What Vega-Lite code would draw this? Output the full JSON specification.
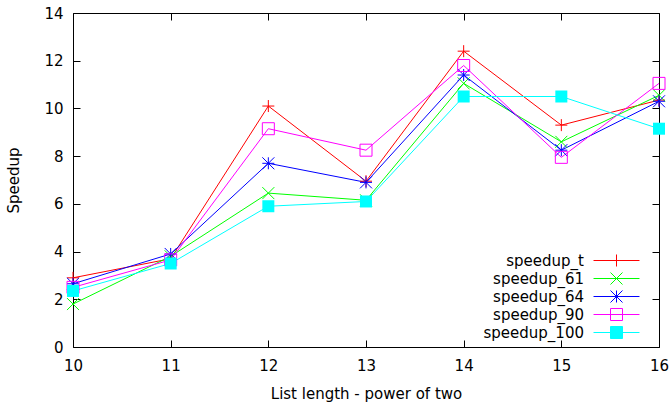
{
  "$schema": "https://vega.github.io/schema/vega-lite/v6.json",
  "width": 586,
  "height": 334,
  "autosize": {"type": "none"},
  "padding": {"left": 73, "top": 13, "right": 11, "bottom": 56},
  "background": "white",
  "config": {
    "view": {"stroke": null},
    "font": "DejaVu Sans",
    "axis": {
      "grid": false,
      "domainColor": "black",
      "domainWidth": 1,
      "labelColor": "black",
      "labelFont": "DejaVu Sans",
      "labelFontSize": 15,
      "labelFlush": false,
      "labelOverlap": false,
      "titleFont": "DejaVu Sans",
      "titleFontSize": 15,
      "titleFontWeight": "normal",
      "titleColor": "black"
    },
    "legend": {
      "labelFont": "DejaVu Sans",
      "labelFontSize": 15,
      "labelColor": "black",
      "padding": 0
    }
  },
  "datasets": {
    "speedups": [
      {"n": 10, "series": "speedup_t", "speedup": 2.9},
      {"n": 11, "series": "speedup_t", "speedup": 3.7},
      {"n": 12, "series": "speedup_t", "speedup": 10.1},
      {"n": 13, "series": "speedup_t", "speedup": 6.95},
      {"n": 14, "series": "speedup_t", "speedup": 12.4},
      {"n": 15, "series": "speedup_t", "speedup": 9.3},
      {"n": 16, "series": "speedup_t", "speedup": 10.35},
      {"n": 10, "series": "speedup_61", "speedup": 1.8},
      {"n": 11, "series": "speedup_61", "speedup": 3.8},
      {"n": 12, "series": "speedup_61", "speedup": 6.45},
      {"n": 13, "series": "speedup_61", "speedup": 6.15},
      {"n": 14, "series": "speedup_61", "speedup": 11.05},
      {"n": 15, "series": "speedup_61", "speedup": 8.6},
      {"n": 16, "series": "speedup_61", "speedup": 10.55},
      {"n": 10, "series": "speedup_64", "speedup": 2.65},
      {"n": 11, "series": "speedup_64", "speedup": 3.9},
      {"n": 12, "series": "speedup_64", "speedup": 7.7},
      {"n": 13, "series": "speedup_64", "speedup": 6.9},
      {"n": 14, "series": "speedup_64", "speedup": 11.4},
      {"n": 15, "series": "speedup_64", "speedup": 8.25},
      {"n": 16, "series": "speedup_64", "speedup": 10.3},
      {"n": 10, "series": "speedup_90", "speedup": 2.5},
      {"n": 11, "series": "speedup_90", "speedup": 3.65},
      {"n": 12, "series": "speedup_90", "speedup": 9.15},
      {"n": 13, "series": "speedup_90", "speedup": 8.25},
      {"n": 14, "series": "speedup_90", "speedup": 11.8},
      {"n": 15, "series": "speedup_90", "speedup": 7.95},
      {"n": 16, "series": "speedup_90", "speedup": 11.05},
      {"n": 10, "series": "speedup_100", "speedup": 2.35},
      {"n": 11, "series": "speedup_100", "speedup": 3.5},
      {"n": 12, "series": "speedup_100", "speedup": 5.9},
      {"n": 13, "series": "speedup_100", "speedup": 6.1},
      {"n": 14, "series": "speedup_100", "speedup": 10.5},
      {"n": 15, "series": "speedup_100", "speedup": 10.5},
      {"n": 16, "series": "speedup_100", "speedup": 9.15}
    ]
  },
  "resolve": {
    "axis": {"x": "independent", "y": "independent"},
    "scale": {"shape": "independent", "fill": "independent", "color": "independent"}
  },
  "layer": [
    {
      "data": {"name": "speedups"},
      "mark": {"type": "line", "strokeWidth": 1, "opacity": 1},
      "encoding": {
        "x": {
          "field": "n", "type": "quantitative",
          "scale": {"domain": [10, 16], "nice": false, "zero": false},
          "axis": {"orient": "bottom", "values": [10, 11, 12, 13, 14, 15, 16], "format": "d", "ticks": false, "labelPadding": 11, "title": "List length - power of two", "titlePadding": 13}
        },
        "y": {
          "field": "speedup", "type": "quantitative",
          "scale": {"domain": [0, 14], "nice": false, "zero": true},
          "axis": {"orient": "left", "values": [0, 2, 4, 6, 8, 10, 12, 14], "format": "d", "ticks": false, "labelPadding": 10, "title": "Speedup", "titlePadding": 22}
        },
        "color": {
          "field": "series", "type": "nominal",
          "scale": {
            "domain": ["speedup_t", "speedup_61", "speedup_64", "speedup_90", "speedup_100"],
            "range": ["#ff0000", "#00ff00", "#0000ff", "#ff00ff", "#00ffff"]
          },
          "legend": null
        }
      }
    },
    {
      "data": {"name": "speedups"},
      "transform": [{"filter": "datum.series !== 'speedup_100'"}],
      "mark": {"type": "point", "filled": false, "size": 144, "strokeWidth": 1, "opacity": 1},
      "encoding": {
        "x": {
          "field": "n", "type": "quantitative",
          "axis": {"orient": "top", "values": [10, 11, 12, 13, 14, 15, 16], "ticks": false, "labels": false, "title": null}
        },
        "y": {
          "field": "speedup", "type": "quantitative",
          "axis": {"orient": "right", "values": [0, 2, 4, 6, 8, 10, 12, 14], "ticks": false, "labels": false, "title": null}
        },
        "color": {
          "field": "series", "type": "nominal",
          "scale": {
            "domain": ["speedup_t", "speedup_61", "speedup_64", "speedup_90"],
            "range": ["#ff0000", "#00ff00", "#0000ff", "#ff00ff"]
          },
          "legend": null
        },
        "shape": {
          "field": "series", "type": "nominal",
          "scale": {
            "domain": ["speedup_t", "speedup_61", "speedup_64", "speedup_90"],
            "range": [
              "M-1,0L1,0M0,-1L0,1",
              "M-1,-1L1,1M-1,1L1,-1",
              "M-1,0L1,0M0,-1L0,1M-1,-1L1,1M-1,1L1,-1",
              "square"
            ]
          },
          "legend": null
        }
      }
    },
    {
      "data": {"name": "speedups"},
      "transform": [{"filter": "datum.series === 'speedup_100'"}],
      "mark": {"type": "square", "size": 144, "color": "#00ffff", "opacity": 1},
      "encoding": {
        "x": {
          "field": "n", "type": "quantitative",
          "axis": {"orient": "bottom", "values": [10, 11, 12, 13, 14, 15, 16], "offset": -7, "ticks": true, "tickSize": 7, "tickWidth": 1, "tickOpacity": 1, "tickColor": "#000000", "domain": false, "labels": false, "title": null}
        },
        "y": {
          "field": "speedup", "type": "quantitative",
          "axis": {"orient": "left", "values": [0, 2, 4, 6, 8, 10, 12, 14], "offset": -7, "ticks": true, "tickSize": 7, "tickWidth": 1, "tickOpacity": 1, "tickColor": "#000000", "domain": false, "labels": false, "title": null}
        }
      }
    },
    {
      "data": {"values": []},
      "mark": {"type": "point", "filled": false, "size": 144, "strokeWidth": 1, "opacity": 1},
      "encoding": {
        "x": {
          "field": "n", "type": "quantitative",
          "axis": {"orient": "top", "values": [10, 11, 12, 13, 14, 15, 16], "offset": -7, "ticks": true, "tickSize": 7, "tickWidth": 1, "tickOpacity": 1, "tickColor": "#000000", "domain": false, "labels": false, "title": null}
        },
        "y": {
          "field": "speedup", "type": "quantitative",
          "axis": {"orient": "right", "values": [0, 2, 4, 6, 8, 10, 12, 14], "offset": -7, "ticks": true, "tickSize": 7, "tickWidth": 1, "tickOpacity": 1, "tickColor": "#000000", "domain": false, "labels": false, "title": null}
        },
        "color": {
          "field": "series", "type": "nominal",
          "scale": {
            "domain": ["speedup_t", "speedup_61", "speedup_64", "speedup_90", "speedup_100"],
            "range": ["#ff0000", "#00ff00", "#0000ff", "#ff00ff", "#00ffff"]
          },
          "legend": {"title": null, "orient": "none", "legendX": 536, "legendY": 240, "labelAlign": "right", "labelOffset": -40, "symbolSize": 144, "symbolStrokeWidth": 1, "rowPadding": 1, "symbolOpacity": 1}
        },
        "shape": {
          "field": "series", "type": "nominal",
          "scale": {
            "domain": ["speedup_t", "speedup_61", "speedup_64", "speedup_90", "speedup_100"],
            "range": [
              "M-3.83,0L3.83,0M0,-1L0,1",
              "M-3.83,0L3.83,0M-1,-1L1,1M-1,1L1,-1",
              "M-3.83,0L3.83,0M0,-1L0,1M-1,-1L1,1M-1,1L1,-1",
              "M-3.83,0L3.83,0M-1,-1L1,-1L1,1L-1,1Z",
              "M-3.83,0L3.83,0M-1,-1L1,-1L1,1L-1,1Z"
            ]
          },
          "legend": {"title": null, "orient": "none", "legendX": 536, "legendY": 240, "labelAlign": "right", "labelOffset": -40, "symbolSize": 144, "symbolStrokeWidth": 1, "rowPadding": 1, "symbolOpacity": 1}
        },
        "fill": {
          "field": "series", "type": "nominal",
          "scale": {
            "domain": ["speedup_t", "speedup_61", "speedup_64", "speedup_90", "speedup_100"],
            "range": ["transparent", "transparent", "transparent", "transparent", "#00ffff"]
          },
          "legend": {"title": null, "orient": "none", "legendX": 536, "legendY": 240, "labelAlign": "right", "labelOffset": -40, "symbolSize": 144, "symbolStrokeWidth": 1, "rowPadding": 1, "symbolOpacity": 1}
        }
      }
    }
  ]
}
